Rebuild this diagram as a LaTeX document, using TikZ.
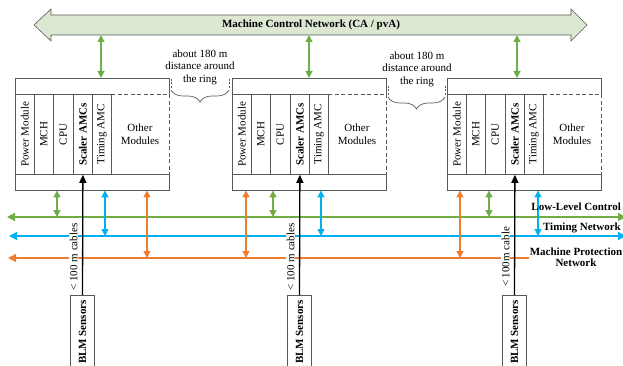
\documentclass[tikz,border=0pt]{standalone}
\usepackage{fontspec}
\setmainfont{Liberation Serif}
\usetikzlibrary{arrows.meta,decorations.pathreplacing}
\definecolor{cgreen}{HTML}{70AD47}
\definecolor{cblue}{HTML}{00B0F0}
\definecolor{corange}{HTML}{ED7D31}
\definecolor{cfill}{HTML}{DDE8D2}
\definecolor{cgray}{HTML}{595959}
\tikzset{
  rl/.style={draw=cgray, line width=0.8pt},
  modcol/.style={draw=cgray, line width=0.8pt, minimum width=19pt, minimum height=80pt, inner sep=0pt, anchor=north west},
  dbl/.style={{Triangle[width=7pt,length=7pt]}-{Triangle[width=7pt,length=7pt]}, line width=1.2pt},
  hline/.style={{Triangle[width=8pt,length=8pt]}-{Triangle[width=8pt,length=8pt]}, line width=1.3pt},
  gar/.style={dbl, draw=cgreen},
  bar/.style={dbl, draw=cblue},
  oar/.style={dbl, draw=corange},
  cable/.style={-{Triangle[width=7pt,length=8pt]}, line width=1.3pt, draw=black},
  cablelbl/.style={fill=white, inner sep=1pt},
  sensor/.style={draw=cgray, line width=0.8pt, minimum width=24pt, minimum height=80pt, inner sep=0pt, anchor=north},
  bracemark/.style={draw=cgray, line width=0.7pt, dash pattern=on 2pt off 1.5pt},
  bracestyle/.style={draw=cgray, line width=0.7pt, decorate, decoration={brace, mirror, amplitude=12pt}},
  netlbl/.style={font=\fontsize{11}{11.5}\selectfont\bfseries, inner sep=1pt}
}
\newcommand\iocrack[3]{%
 \begin{scope}[shift={(#2,0)}]
  \node[minimum width=154pt, minimum height=112pt, inner sep=0pt, anchor=north west] (#1) at (0,78) {};
  \draw[rl] (0,94) -- (0,78) -- (154,78) -- (154,94) (0,94) -- (96,94);
  \draw[rl,dash pattern=on 4pt off 2.5pt] (96,94) -- (154,94) -- (154,174);
  \draw[rl] (0,174) -- (0,190) -- (154,190) -- (154,174) (0,174) -- (154,174);
  \node[modcol] (#1pm) at (0,94) {\rotatebox{90}{Power Module}};
  \node[modcol] (#1mch) at (19,94) {\rotatebox{90}{MCH}};
  \node[modcol, minimum width=20pt] (#1cpu) at (38,94) {\rotatebox{90}{CPU}};
  \node[modcol] (#1sc) at (58,94) {\rotatebox{90}{\bfseries Scaler AMCs}};
  \node[modcol] (#1tm) at (77,94) {\rotatebox{90}{Timing AMC}};
  \node[align=center] (#1om) at (125,134) {Other\\Modules};
  \node[sensor] (#1s) at (67.5,295) {};
  \node (#1st) at (67.5,332) {\rotatebox{90}{\bfseries BLM Sensors}};
  \node[cablelbl] (#1cl) at (58.5,257) {\rotatebox{90}{#3}};
  \draw[cable] (#1s.north) -- (#1sc.south);
 \end{scope}}
\begin{document}
\begin{tikzpicture}[x=1pt,y=-1pt, font=\fontsize{11}{12.5}\selectfont]
\useasboundingbox (0,0) rectangle (623,366);
% machine control network
\draw[draw=cgray, fill=cfill, line width=0.6pt] (34,25) -- (51,9) -- (51,15) -- (571,15) -- (571,9) -- (587,25) -- (571,41) -- (571,35) -- (51,35) -- (51,41) -- cycle;
\node[font=\fontsize{11}{12.5}\selectfont\bfseries] (mcn) at (311,25) {Machine Control Network (CA / pvA)};
\coordinate (mcnb) at (311,35);
% horizontal networks
\coordinate (gL) at (7,217);  \coordinate (gR) at (626,217);
\coordinate (bL) at (9,236);  \coordinate (bR) at (626,236);
\coordinate (oL) at (8,258);  \coordinate (oR) at (626,258);
\draw[hline, draw=cgreen] (gL) -- (gR);
\draw[hline, draw=cblue] (bL) -- (bR);
\draw[hline, draw=corange] (oL) -- (oR);
% racks
\iocrack{ra}{15}{< 100 m cables}
\iocrack{rb}{232}{< 100 m cables}
\iocrack{rc}{447}{< 100m cable}
% top links
\coordinate (ta) at (101,0); \coordinate (tb) at (309,0); \coordinate (tc) at (517,0);
\draw[gar] (mcnb -| ta) -- (ra.north -| ta);
\draw[gar] (mcnb -| tb) -- (rb.north -| tb);
\draw[gar] (mcnb -| tc) -- (rc.north -| tc);
% lower links
\coordinate (ag) at (57,0);  \coordinate (ab) at (105,0); \coordinate (ao) at (147,0);
\coordinate (bo) at (246,0); \coordinate (bg) at (273,0); \coordinate (bb) at (321,0);
\coordinate (co) at (460,0); \coordinate (cg) at (489,0); \coordinate (cb) at (538,0);
\draw[gar] (ra.south -| ag) -- (gL -| ag);
\draw[bar] (ra.south -| ab) -- (bL -| ab);
\draw[oar] (ra.south -| ao) -- (oL -| ao);
\draw[oar] (rb.south -| bo) -- (oL -| bo);
\draw[gar] (rb.south -| bg) -- (gL -| bg);
\draw[bar] (rb.south -| bb) -- (bL -| bb);
\draw[oar] (rc.south -| co) -- (oL -| co);
\draw[gar] (rc.south -| cg) -- (gL -| cg);
\draw[bar] (rc.south -| cb) -- (bL -| cb);
% distance braces
\node[align=center] (d1) at (200,67) {about 180 m\\distance around\\the ring};
\node[align=center] (d2) at (417,69) {about 180 m\\distance around\\the ring};
\coordinate (d1a) at (171,79); \coordinate (d1b) at (229,79);
\coordinate (d2a) at (388,86); \coordinate (d2b) at (445,86);
\draw[bracemark] (d1a) -- ++(0,9);
\draw[bracemark] (d1b) -- ++(0,9);
\draw[bracemark] (d2a) -- ++(0,9);
\draw[bracemark] (d2b) -- ++(0,9);
\draw[bracestyle] ([yshift=-11pt]d1a) -- ([yshift=-11pt]d1b);
\draw[bracestyle] ([yshift=-11pt]d2a) -- ([yshift=-11pt]d2b);
% network labels
\node[netlbl, anchor=east] (llc) at (622,207) {Low-Level Control};
\node[netlbl, anchor=east] (tn) at (622,228) {Timing Network};
\node[netlbl, align=center, fill=white] (mpn) at (576,257) {Machine Protection\\Network};
\end{tikzpicture}
\end{document}
